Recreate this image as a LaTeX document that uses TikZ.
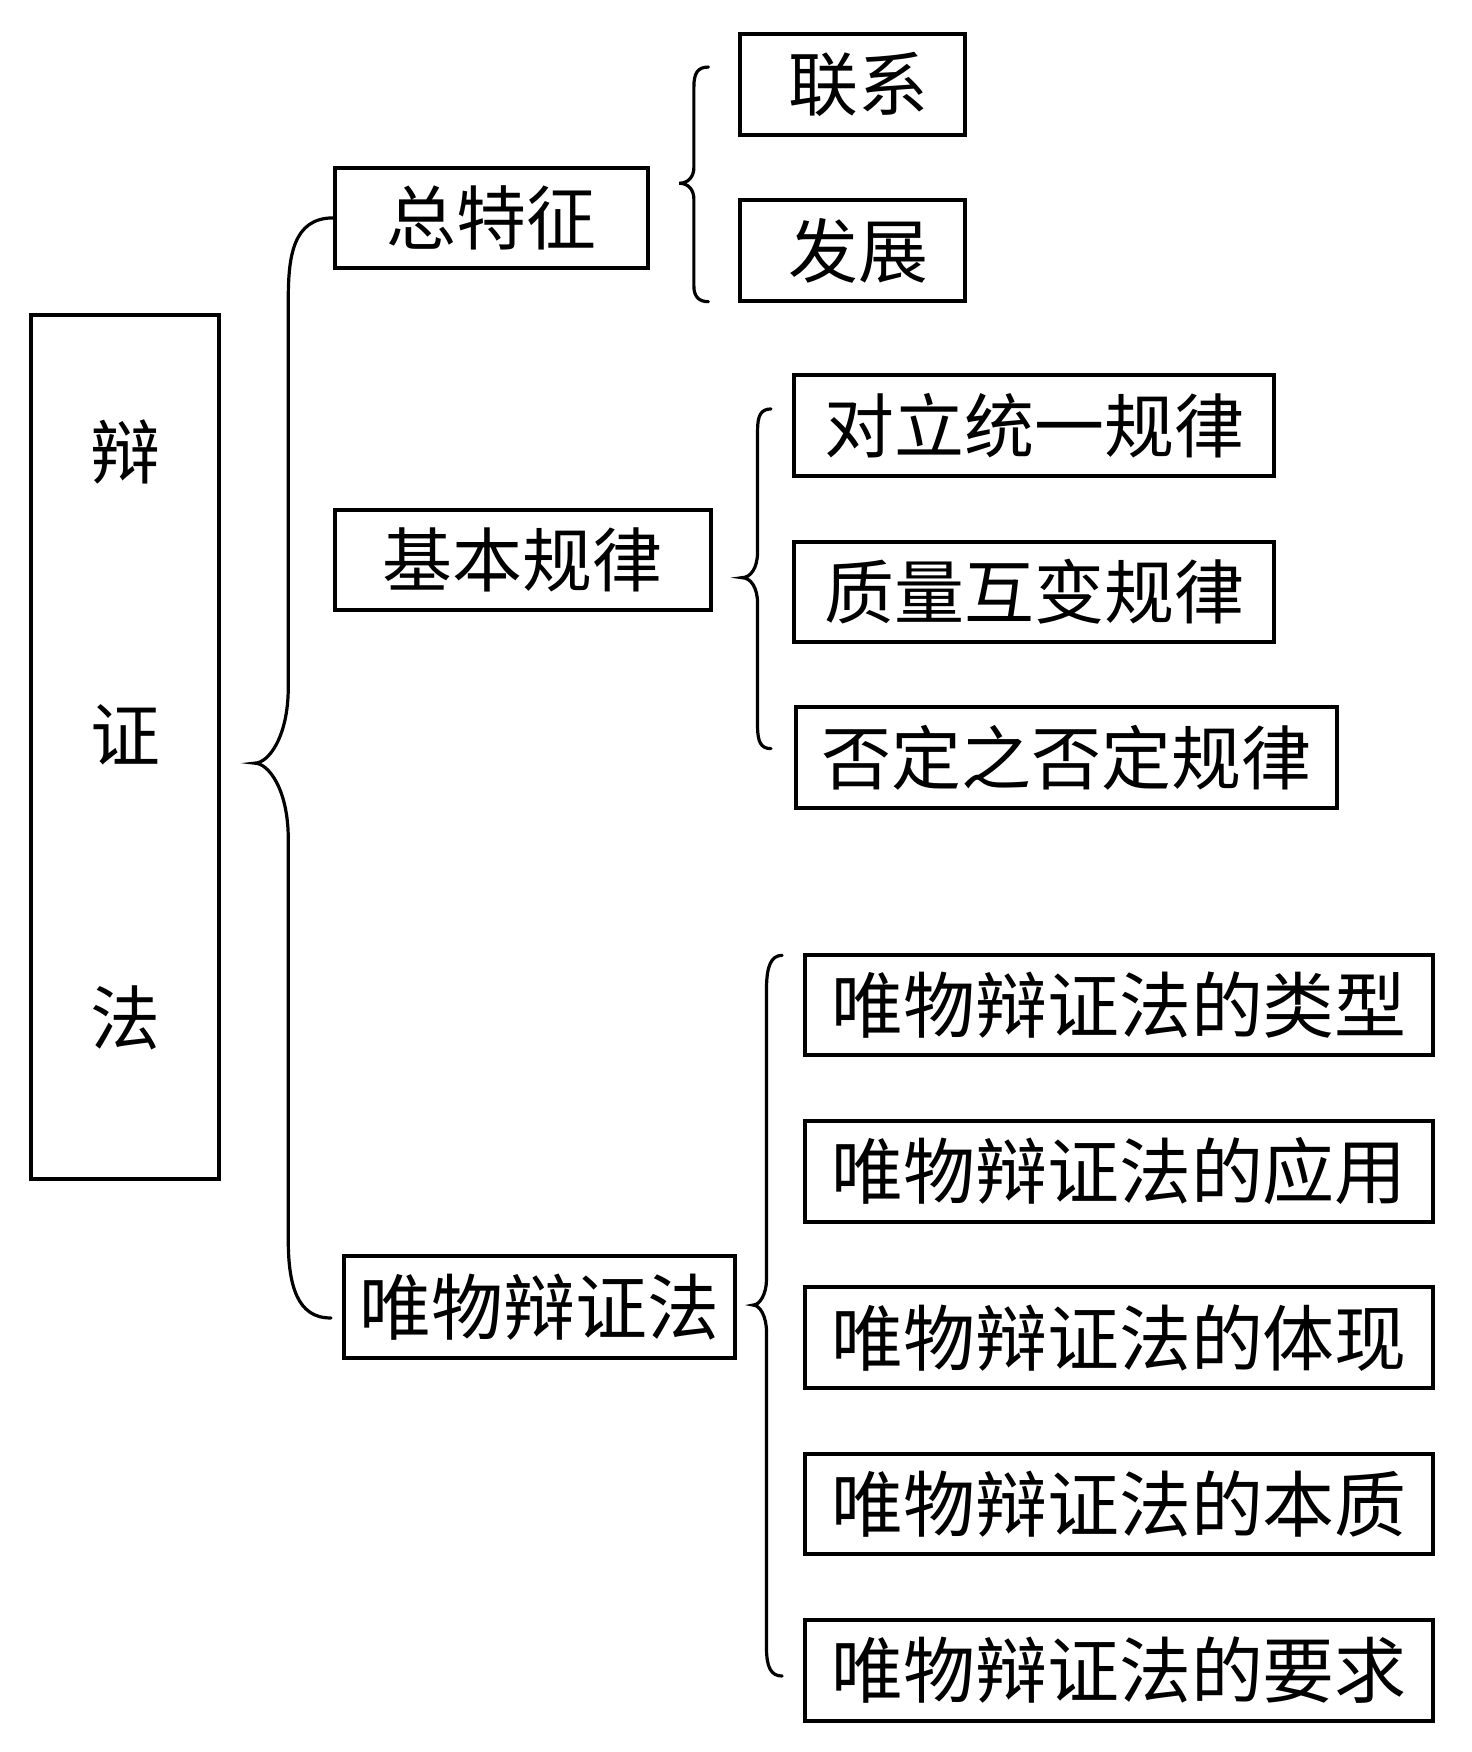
\documentclass[tikz,border=0pt]{standalone}
\usepackage{fontspec}
\newfontfamily\cjk{Noto Sans CJK SC}
\usetikzlibrary{positioning}
\begin{document}
\begin{tikzpicture}[x=0.5589pt,y=-0.5589pt,node distance=83.2pt,
	box/.style={draw,line width=2pt,inner sep=0pt,minimum height=50.3pt,font=\cjk\fontsize{35}{40}\selectfont},
	big box/.style={box,font=\cjk\fontsize{36}{40}\selectfont},
	brace/.style={line width=1.6pt,line cap=round}]
	\fill[white] (0,0) rectangle (1317,1568);
	\useasboundingbox (0,0) rectangle (1317,1568);

	\node[box,minimum width=93.9pt,minimum height=432pt,align=center,text depth=15pt,font=\cjk\fontsize{35}{141.7}\selectfont] (Bianzheng) at (112,668.5) {辩\\证\\法};

	\node[box,minimum width=156.5pt] (Zongtezheng)	at (440,195)	{总特征};
	\node[box,minimum width=187.8pt] (Jibenguilv)	at (468,501)	{基本规律};
	\node[big box,minimum width=195.6pt,minimum height=50.9pt] (Weiwu) at (483,1169.5) {唯物辩证法};

	\node[box,minimum width=112.9pt] (Lianxi)	at (763,75.5)	{\hspace{6pt}联系};
	\node[box,minimum width=112.9pt] (Fazhan)	[below of=Lianxi]	{\hspace{6pt}发展};

	\node[box,minimum width=239.8pt] (Duili)	at (925.5,381)	{对立统一规律};
	\node[box,minimum width=239.8pt] (Zhiliang)	[below of=Duili]	{质量互变规律};
	\node[box,minimum width=270.5pt,anchor=west] (Fouding) at (711,678) {否定之否定规律};

	\node[big box,minimum width=314pt] (Leixing)	at (1001.5,899.5)	{唯物辩证法的类型};
	\node[big box,minimum width=314pt] (Yingyong)	[below of=Leixing]	{唯物辩证法的应用};
	\node[big box,minimum width=314pt] (Tixian)	[below of=Yingyong]	{唯物辩证法的体现};
	\node[big box,minimum width=314pt] (Benzhi)	[below of=Tixian]	{唯物辩证法的本质};
	\node[big box,minimum width=314pt] (Yaoqiu)	[below of=Benzhi]	{唯物辩证法的要求};

	% braces
	\draw[brace] (Zongtezheng.west) .. controls (262,195) and (258,230) .. (258,268)
		-- (258,615) .. controls (258,660) and (240,683) .. (228,683)
		.. controls (240,683) and (258,706) .. (258,751)
		-- (258,1110) .. controls (258,1150) and (266,1180) .. ([xshift=-5.6pt,yshift=-5.6pt]Weiwu.west);
	\draw[brace] (634,60) .. controls (624,60) and (621,66) .. (621,78)
		-- (621,150) .. controls (621,158) and (616,164) .. (608,164)
		.. controls (616,164) and (621,170) .. (621,178)
		-- (621,256) .. controls (621,266) and (626,270) .. (634,270);
	\draw[brace] (690,366) .. controls (681,366) and (678,372) .. (678,385)
		-- (678,494) .. controls (678,508) and (672,517) .. (664,517)
		.. controls (672,517) and (678,526) .. (678,540)
		-- (678,650) .. controls (678,664) and (681,670) .. (690,670);
	\draw[brace] (700,855) .. controls (690,855) and (686,865) .. (686,885)
		-- (686,1145) .. controls (686,1158) and (680,1168) .. (674,1168)
		.. controls (680,1168) and (686,1178) .. (686,1192)
		-- (686,1475) .. controls (686,1492) and (690,1500) .. (700,1500);
\end{tikzpicture}
\end{document}
